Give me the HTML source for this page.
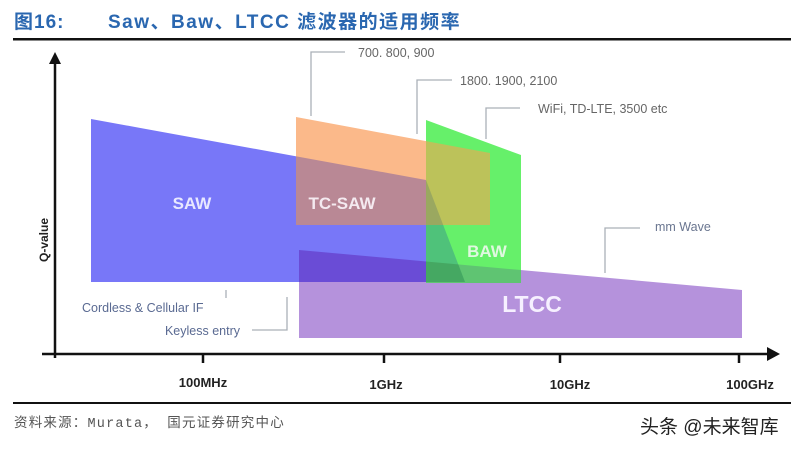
<!DOCTYPE html>
<html><head><meta charset="utf-8"><style>
html,body{margin:0;padding:0;background:#fff;}
body{width:798px;height:450px;overflow:hidden;position:relative;}
</style></head><body>
<svg width="798" height="450" xmlns="http://www.w3.org/2000/svg" style="position:absolute;left:0;top:0">
<defs>
<clipPath id="cS"><polygon points="91,119 426,180 465,282 91,282"/></clipPath>
<clipPath id="cO"><polygon points="296,117 490,153 490,225 296,225"/></clipPath>
<clipPath id="cG"><polygon points="426,120 521,155 521,283 426,283"/></clipPath>
<clipPath id="cL"><polygon points="299,250 742,290 742,338 299,338"/></clipPath>
</defs>
<rect width="798" height="450" fill="#fff"/>
<text x="14" y="28" font-family="Liberation Sans, Noto Sans CJK SC, sans-serif" font-size="19" font-weight="bold" fill="#2a67b0" letter-spacing="1">图16:</text>
<text x="108" y="28" font-family="Liberation Sans, Noto Sans CJK SC, sans-serif" font-size="19" font-weight="bold" fill="#2a67b0" letter-spacing="1.5">Saw、Baw、LTCC 滤波器的适用频率</text>
<rect x="13" y="38" width="778" height="2.5" fill="#111"/>

<polygon points="299,250 742,290 742,338 299,338" fill="#b592dc"/>
<polygon points="91,119 426,180 465,282 91,282" fill="#7877f8"/>
<g clip-path="url(#cL)"><polygon points="91,119 426,180 465,282 91,282" fill="#6a4cd6"/></g>
<polygon points="296,117 490,153 490,225 296,225" fill="#fbb98a"/>
<g clip-path="url(#cS)"><polygon points="296,117 490,153 490,225 296,225" fill="#b98895"/></g>
<polygon points="426,120 521,155 521,283 426,283" fill="#66f06a"/>
<g clip-path="url(#cG)">
<polygon points="296,117 490,153 490,225 296,225" fill="#bcc25a"/>
<polygon points="299,250 742,290 742,338 299,338" fill="#5fc472"/>
<g clip-path="url(#cS)">
<polygon points="296,117 490,153 490,225 296,225" fill="#9aa860"/>
<rect x="426" y="225" width="100" height="60" fill="#4fc27a"/>
<polygon points="299,250 742,290 742,338 299,338" fill="#45a862"/>
</g>
</g>

<g font-family="Liberation Sans, sans-serif" font-weight="bold" fill="#fff">
<text x="192" y="209" font-size="17" text-anchor="middle" fill="#e8e8ff">SAW</text>
<text x="342" y="209" font-size="17" text-anchor="middle" fill="#f4eaf0">TC-SAW</text>
<text x="487" y="257" font-size="17" text-anchor="middle" fill="#e0f8e0">BAW</text>
<text x="532" y="312" font-size="23" text-anchor="middle" fill="#f6f0ff">LTCC</text>
</g>

<g stroke="#aab0b8" stroke-width="1.3" fill="none">
<polyline points="345,52 311,52 311,116"/>
<polyline points="452,80 417,80 417,134"/>
<polyline points="520,108 486,108 486,139"/>
<polyline points="640,228 605,228 605,273"/>
<polyline points="226,290 226,298"/>
<polyline points="252,330 287,330 287,297"/>
</g>
<g font-family="Liberation Sans, sans-serif" font-size="12.5" fill="#666">
<text x="358" y="57">700. 800, 900</text>
<text x="460" y="85">1800. 1900, 2100</text>
<text x="538" y="113">WiFi, TD-LTE, 3500 etc</text>
<text x="655" y="231" fill="#6a7690">mm Wave</text>
<text x="82" y="312" fill="#5a6a92">Cordless &amp; Cellular IF</text>
<text x="240" y="335" fill="#5a6a92" text-anchor="end">Keyless entry</text>
</g>

<g stroke="#111" stroke-width="2.5" fill="none">
<line x1="55" y1="62" x2="55" y2="358"/>
<line x1="42" y1="354" x2="770" y2="354"/>
<line x1="203" y1="354" x2="203" y2="363"/>
<line x1="384" y1="354" x2="384" y2="363"/>
<line x1="560" y1="354" x2="560" y2="363"/>
<line x1="739" y1="354" x2="739" y2="363"/>
</g>
<polygon points="55,52 49,64 61,64" fill="#111"/>
<polygon points="780,354 767,347 767,361" fill="#111"/>
<text x="48" y="240" transform="rotate(-90 48 240)" font-family="Liberation Sans, sans-serif" font-size="12" font-weight="bold" text-anchor="middle" fill="#222">Q-value</text>
<g font-family="Liberation Sans, sans-serif" font-size="13" font-weight="bold" fill="#222" text-anchor="middle">
<text x="203" y="387">100MHz</text>
<text x="386" y="389">1GHz</text>
<text x="570" y="389">10GHz</text>
<text x="750" y="389">100GHz</text>
</g>

<rect x="13" y="402" width="778" height="2" fill="#111"/>
<text x="14" y="427" font-family="Liberation Mono, Noto Sans CJK SC, monospace" font-size="13.5" fill="#555" letter-spacing="1.2">资料来源：Murata， 国元证券研究中心</text>
<text x="640" y="433" font-family="Liberation Sans, Noto Sans CJK SC, sans-serif" font-size="19" fill="#222">头条 @未来智库</text>
</svg>
</body></html>
